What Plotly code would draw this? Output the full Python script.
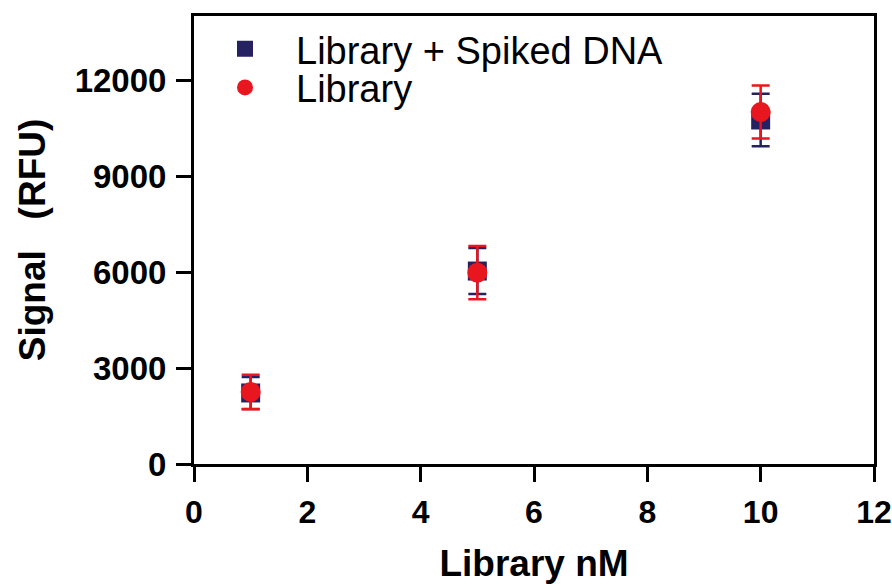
import plotly.graph_objects as go

x_vals = [1, 5, 10]
spiked_y = [2220, 6030, 10750]
spiked_err = [500, 720, 820]
library_y = [2250, 5980, 11000]
library_err = [540, 830, 830]

x_ticks = [0, 2, 4, 6, 8, 10, 12]
y_ticks = [0, 3000, 6000, 9000, 12000]

navy = "#262262"
red = "#E8161E"

fig = go.Figure()
fig.add_trace(go.Scatter(
    x=x_vals, y=spiked_y, mode="markers", name="Library + Spiked DNA",
    marker=dict(symbol="square", size=19, color=navy),
    error_y=dict(type="data", array=spiked_err, color=navy, thickness=2.5, width=9),
    legend="legend",
))
fig.add_trace(go.Scatter(
    x=x_vals, y=library_y, mode="markers", name="Library",
    marker=dict(symbol="circle", size=20, color=red),
    error_y=dict(type="data", array=library_err, color=red, thickness=2.5, width=9),
    legend="legend2",
))

leg_common = dict(x=0.0, xanchor="left", yanchor="middle",
                  font=dict(size=38, color="black"), itemwidth=92,
                  bgcolor="rgba(0,0,0,0)")

fig.update_layout(
    width=892, height=584,
    margin=dict(l=194, r=18, t=16, b=120),
    paper_bgcolor="white", plot_bgcolor="white",
    font=dict(family="Liberation Sans, Arial, sans-serif", color="black"),
    showlegend=True,
    legend=dict(y=0.926, **leg_common),
    legend2=dict(y=0.84, **leg_common),
    xaxis=dict(range=[0, 12], tickvals=x_ticks, ticktext=[str(t) for t in x_ticks],
               showline=True, linecolor="black", linewidth=3, mirror=True,
               ticks="outside", ticklen=15, tickwidth=3, tickcolor="black",
               showgrid=False, zeroline=False, automargin=False,
               ticklabelstandoff=3, ticklabeloverflow="allow",
               tickfont=dict(size=32, weight="bold"),
               title=dict(text="Library nM", font=dict(size=37, weight="bold"), standoff=25)),
    yaxis=dict(range=[0, 14000], tickvals=y_ticks, ticktext=[str(t) for t in y_ticks],
               showline=True, linecolor="black", linewidth=3, mirror=True,
               ticks="outside", ticklen=15, tickwidth=3, tickcolor="black",
               showgrid=False, zeroline=False, automargin=False,
               ticklabelstandoff=3, ticklabeloverflow="allow",
               tickfont=dict(size=33, weight="bold"),
               title=dict(text="Signal\u00a0\u00a0 (RFU)", font=dict(size=37, weight="bold"), standoff=18)),
)

fig.write_html("out.html", config={"displayModeBar": False},
               post_script="document.body.style.margin='0';document.body.style.overflow='hidden';")
